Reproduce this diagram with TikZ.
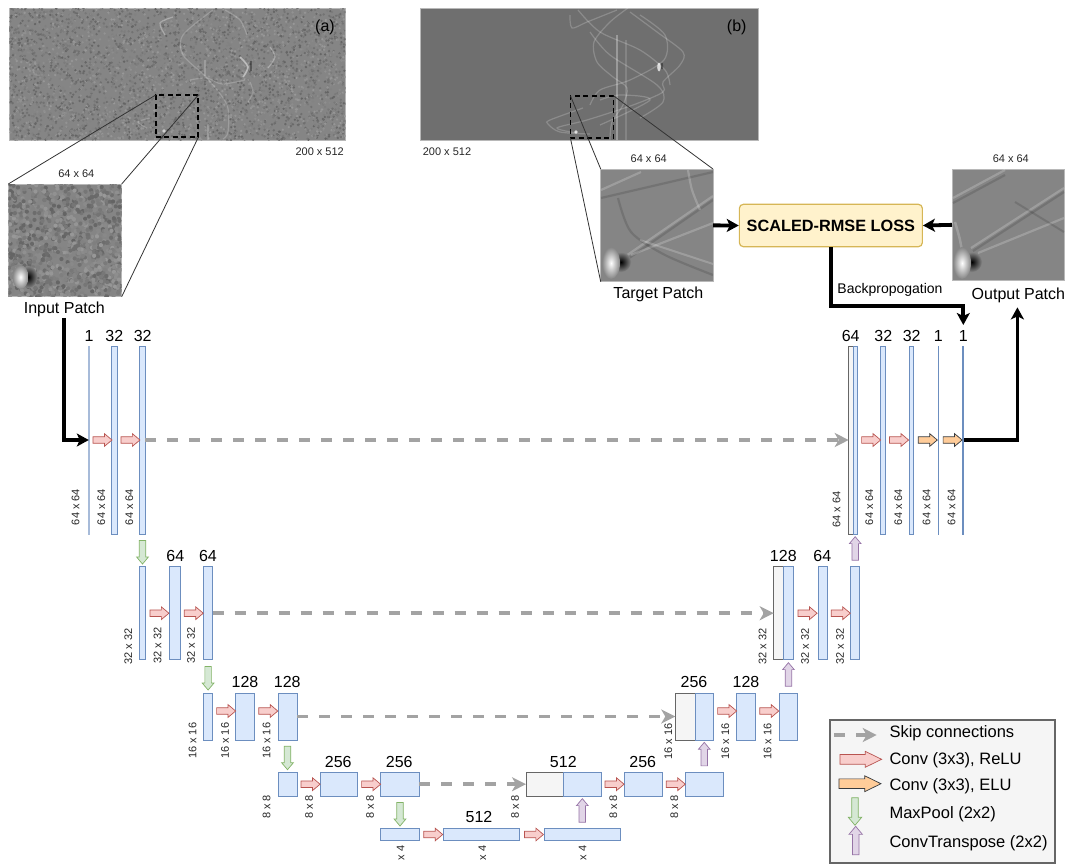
\documentclass[tikz,border=0pt]{standalone}
\usepackage{fontspec}
\setmainfont{Liberation Sans}
\usepackage{xcolor}
\usetikzlibrary{arrows.meta,calc,shapes.arrows}
\definecolor{UBlueFill}{HTML}{DAE8FC}
\definecolor{UBlueLine}{HTML}{6C8EBF}
\definecolor{UGrayFill}{HTML}{F5F5F5}
\definecolor{UGrayLine}{HTML}{666666}
\definecolor{URedFill}{HTML}{F8CECC}
\definecolor{URedLine}{HTML}{B85450}
\definecolor{UOrangeFill}{HTML}{FFCC99}
\definecolor{UOrangeLine}{HTML}{36393D}
\definecolor{UGreenFill}{HTML}{D5E8D4}
\definecolor{UGreenLine}{HTML}{82B366}
\definecolor{UPurpleFill}{HTML}{E1D5E7}
\definecolor{UPurpleLine}{HTML}{9673A6}
\definecolor{USkip}{HTML}{A3A3A3}
\definecolor{ULossFill}{HTML}{FFF2CC}
\definecolor{ULossLine}{HTML}{D6B656}
\definecolor{UPatch}{HTML}{858585}
\definecolor{UClean}{HTML}{6F6F6F}

\newcommand{\UFontSize}[1]{\fontsize{#1}{#1}\selectfont}
% Random grain for the noisy panels: x1,y1,x2,y2,count,cell size.
\newcommand{\UGrain}[6]{%
  \foreach \n in {1,...,#5} {
    \pgfmathsetmacro\gx{#1+rnd*(#3-#1)}
    \pgfmathsetmacro\gy{#2+rnd*(#4-#2)}
    \pgfmathsetmacro\gv{40+rnd*21}
    \fill[black!\gv!white] (\gx,\gy) circle[radius=#6];
  }}

\tikzset{
  unetblock/.style={draw=UBlueLine,fill=UBlueFill,line width=0.9pt,inner sep=0pt,outer sep=0pt},
  concatblock/.style={unetblock,draw=UGrayLine,fill=UGrayFill},
  blockarrow/.style={shape=single arrow,inner sep=2.9pt,outer sep=0pt,line width=0.7pt,
    single arrow head extend=3.1pt,single arrow tip angle=80,minimum height=19pt,minimum width=12.5pt},
  relu/.style={blockarrow,draw=URedLine,fill=URedFill},
  elu/.style={blockarrow,draw=UOrangeLine,fill=UOrangeFill},
  pool/.style={blockarrow,shape border rotate=270,minimum height=23.5pt,minimum width=11.5pt,
    single arrow head extend=2.6pt,draw=UGreenLine,fill=UGreenFill},
  upconv/.style={blockarrow,shape border rotate=90,minimum height=23.5pt,minimum width=11.5pt,
    single arrow head extend=2.6pt,draw=UPurpleLine,fill=UPurpleFill},
  skipline/.style={draw=USkip,line width=3.6pt,dash pattern=on 11pt off 11pt,
    -{Stealth[length=14pt,width=14pt,inset=4pt]}},
  flowline/.style={draw=black,line width=3.8pt,-{Stealth[length=12pt,width=13pt,inset=3pt]}},
  sizetext/.style={font=\UFontSize{16},inner sep=0pt},
  dimtext/.style={font=\UFontSize{11},inner sep=0pt,text=black!85},
  patchbox/.style={anchor=north west,inner sep=0pt,outer sep=0pt,draw=black!28,line width=0.7pt},
  cropbox/.style={anchor=north west,inner sep=0pt,outer sep=0pt,draw=black,line width=1.8pt,dash pattern=on 5pt off 3.5pt},
  zoomline/.style={draw=black!80,line width=0.8pt},
  streak/.style={white,line width=1.2pt,opacity=0.2},
  darkstreak/.style={black,line width=1.2pt,opacity=0.13},
  legendtext/.style={anchor=west,font=\UFontSize{16.5},inner sep=0pt},
}

\begin{document}
\begin{tikzpicture}[x=1pt,y=-1pt,line join=miter]
  \path[use as bounding box] (0,0) rectangle (1068,863);
  \pgfmathsetseed{42}

  % Noisy full section and its crop.
  \node[patchbox,fill=UPatch,minimum width=336.4pt,minimum height=131.7pt] (panelA) at (9.3,8.3) {};
  \begin{scope}
    \clip (9.3,8.3) rectangle (345.7,140);
    \UGrain{9.3}{8.3}{345.7}{140}{4500}{1.3}
    \draw[streak] plot[smooth] coordinates {(213,10) (183,35) (183,55) (207,78) (227,105) (228,132) (223,139)};
    \draw[streak,opacity=0.3] plot[smooth] coordinates {(173,17) (160,23) (165,35)};
    \draw[streak] plot[smooth] coordinates {(225,10) (240,20) (247,35)};
    \draw[streak,opacity=0.45,line width=1.6pt] plot[smooth] coordinates {(240,57) (248,67) (243,77)};
    \draw[darkstreak,opacity=0.35,line width=1.6pt] (251,61) -- (251,71);
    \draw[streak,opacity=0.3] plot[smooth] coordinates {(270,47) (275,57) (268,68)};
    \draw[streak] plot[smooth] coordinates {(250,82) (253,92) (248,102)};
    \draw[streak] plot[smooth] coordinates {(190,80) (207,78) (222,84) (245,80)};
    \draw[streak] (205,60) -- (205,76);
    \draw[streak] (208,124) -- (208,140);
    \draw[streak] plot[smooth] coordinates {(150,118) (138,122) (147,128)};
    \fill[white,opacity=0.6] (164,131) circle[radius=1.8];
  \end{scope}

  % Clean full section and its crop.
  \node[patchbox,fill=UClean,minimum width=337.5pt,minimum height=131.7pt] (panelB) at (420.5,8.3) {};
  \begin{scope}
    \clip (420.5,8.3) rectangle (758,140);
    \draw[streak] plot[smooth] coordinates {(628,8) (610,22) (594,42) (597,62) (613,77) (627,88) (623,105) (612,122) (610,140)};
    \draw[streak] plot[smooth] coordinates {(630,12) (657,32) (683,52) (680,65) (663,82) (663,92) (633,105) (587,120) (557,128) (577,133)};
    \draw[streak] plot[smooth] coordinates {(570,15) (572,28) (587,22) (617,10)};
    \draw[streak] plot[smooth] coordinates {(583,108) (550,120) (548,124) (560,132) (590,134)};
    \draw[streak] plot[smooth] coordinates {(590,32) (610,55) (657,85) (663,102) (640,118)};
    \draw[streak] plot[smooth] coordinates {(578,10) (600,32) (640,50) (665,70) (670,85)};
    \draw[streak] plot[smooth] coordinates {(640,15) (665,35) (664,60) (630,80) (600,90) (590,105)};
    \draw[streak] plot[smooth] coordinates {(600,100) (620,95) (650,100) (600,125)};
    \draw[streak,line width=2pt,opacity=0.3] (617,35) -- (617,140);
    \draw[streak,line width=1.4pt,opacity=0.15] (626,40) -- (626,140);
    \fill[white,opacity=0.75] (659,67) ellipse [x radius=1.8,y radius=4.5];
    \fill[black,opacity=0.35] (662,66) ellipse [x radius=1.2,y radius=3.5];
    \fill[white,opacity=0.75] (576,132) circle[radius=1.8];
  \end{scope}

  \node[font=\UFontSize{16},inner sep=0pt] (tagA) at (325,27) {(a)};
  \node[font=\UFontSize{16},inner sep=0pt] (tagB) at (736.7,27) {(b)};
  \node[dimtext] (fullA) at (319.7,152) {200 x 512};
  \node[dimtext] (fullB) at (447,152) {200 x 512};

  % Input patch.
  \node[patchbox,fill=UPatch,minimum width=113.4pt,minimum height=112.7pt] (patchIn) at (8.3,184) {};
  \begin{scope}
    \clip (8.3,184) rectangle (121.7,296.7);
    \UGrain{8.3}{184}{121.7}{296.7}{1100}{2.1}
    \shade[inner color=black,outer color=UPatch] (28.5,277) ellipse [x radius=9,y radius=11];
    \shade[inner color=white,outer color=UPatch] (20.5,277) ellipse [x radius=8,y radius=12];
  \end{scope}

  % Target patch.
  \node[patchbox,fill=UPatch,minimum width=112.3pt,minimum height=112.7pt] (patchTgt) at (600.7,169) {};
  \begin{scope}
    \clip (600.7,169) rectangle (713,281.7);
    \draw[streak,line width=2.2pt] (620,260) -- (713,196);
    \draw[darkstreak,line width=2.2pt] (622,263) -- (713,200);
    \draw[streak,line width=2.2pt] (631,255) -- (713,223);
    \draw[darkstreak,line width=2.2pt] (601,198) -- (713,172);
    \draw[streak,line width=2.2pt] (601,190) -- (641,172);
    \draw[darkstreak,line width=2.2pt] plot[smooth] coordinates {(618,198) (631,232) (665,255) (713,275)};
    \draw[streak,line width=2.2pt] plot[smooth] coordinates {(688,170) (692,190) (700,210)};
    \draw[streak,line width=2pt] (640,240) -- (713,264);
    \shade[inner color=black,outer color=UPatch] (621,262) ellipse [x radius=10,y radius=10];
    \shade[inner color=white,outer color=UPatch] (611,263) ellipse [x radius=9,y radius=16];
  \end{scope}

  % Output patch.
  \node[patchbox,fill=UPatch,minimum width=112.7pt,minimum height=111.7pt] (patchOut) at (952,169) {};
  \begin{scope}
    \clip (952,169) rectangle (1064.7,280.7);
    \draw[streak,line width=2.2pt] (953,198) -- (1005,170);
    \draw[darkstreak,line width=2.2pt] (953,203) -- (1005,175);
    \draw[streak,line width=2.2pt] (971,248) -- (1064,188);
    \draw[darkstreak,line width=2.2pt] (973,251) -- (1064,192);
    \draw[streak,line width=2.2pt] (978,253) -- (1064,218);
    \draw[darkstreak,line width=2pt] (1015,202) -- (1064,232);
    \draw[streak,line width=2.5pt] plot[smooth] coordinates {(955,222) (960,240) (963,258)};
    \shade[inner color=black,outer color=UPatch] (972,262) ellipse [x radius=10,y radius=10];
    \shade[inner color=white,outer color=UPatch] (962,263) ellipse [x radius=9,y radius=16];
  \end{scope}

  % Crops and the lines that open them up.
  \node[cropbox,minimum width=42.6pt,minimum height=42.3pt] (cropA) at (155.7,95) {};
  \node[cropbox,minimum width=43pt,minimum height=42.3pt] (cropB) at (570.4,95.7) {};
  \draw[zoomline] (cropA.north west) -- (patchIn.north west);
  \draw[zoomline] (cropA.north east) -- (patchIn.north east);
  \draw[zoomline] (cropA.south east) -- (patchIn.south east);
  \draw[zoomline] (cropB.north west) -- (patchTgt.north west);
  \draw[zoomline] (cropB.north east) -- (patchTgt.north east);
  \draw[zoomline] (cropB.south west) -- (patchTgt.south west);

  \node[dimtext] (sizeIn) at (76.3,173.3) {64 x 64};
  \node[dimtext] (sizeTgt) at (648.7,158.3) {64 x 64};
  \node[dimtext] (sizeOut) at (1010.8,158.3) {64 x 64};
  \node[sizetext] (lblIn) at (64.3,309.3) {Input Patch};
  \node[sizetext] (lblTgt) at (658.4,294.3) {Target Patch};
  \node[sizetext] (lblOut) at (1018.4,295.7) {Output Patch};

  \node[draw=ULossLine,fill=ULossFill,line width=1.2pt,rounded corners=4pt,inner sep=0pt,
    minimum width=183pt,minimum height=42.4pt,font=\UFontSize{16.3}\bfseries] (lossbox) at (830.85,225.5)
    {SCALED-RMSE LOSS};
  \node[font=\UFontSize{14},inner sep=0pt] (lblBack) at (890,290) {Backpropogation};

  % Encoder blocks, row by row.
  \foreach \blk/\xa/\xb in {e1a/88.8/89.4}
    \node[unetblock,draw=UBlueLine!60,minimum width={\xb-\xa},minimum height=188pt] (\blk) at ({(\xa+\xb)/2},440) {};
  \foreach \blk/\xa/\xb in {e1b/111.7/117.3,e1c/139.7/145.3}
    \node[unetblock,minimum width={\xb-\xa},minimum height=188pt] (\blk) at ({(\xa+\xb)/2},440) {};
  \foreach \blk/\xa/\xb in {e2a/139.7/145.3,e2b/169.7/180,e2c/203.7/212.7}
    \node[unetblock,minimum width={\xb-\xa},minimum height=93pt] (\blk) at ({(\xa+\xb)/2},613.2) {};
  \foreach \blk/\xa/\xb in {e3a/203.3/212.7,e3b/235.7/254.7,e3c/278/297}
    \node[unetblock,minimum width={\xb-\xa},minimum height=47pt] (\blk) at ({(\xa+\xb)/2},716.5) {};
  \foreach \blk/\xa/\xb in {e4a/278/297,e4b/320.3/357.7,e4c/380.7/419.3}
    \node[unetblock,minimum width={\xb-\xa},minimum height=24.3pt] (\blk) at ({(\xa+\xb)/2},784.2) {};
  \foreach \blk/\xa/\xb in {b5a/380.7/419.3,b5b/443.3/519.7,b5c/544.3/620.3}
    \node[unetblock,minimum width={\xb-\xa},minimum height=12.4pt] (\blk) at ({(\xa+\xb)/2},834.5) {};

  % Decoder blocks, grey halves are the copied maps.
  \foreach \blk/\xa/\xb in {u4x/526/563.7}
    \node[concatblock,minimum width={\xb-\xa},minimum height=24.3pt] (\blk) at ({(\xa+\xb)/2},784.2) {};
  \foreach \blk/\xa/\xb in {u4a/563.7/601,u4b/624.3/662.7,u4c/685/723.3}
    \node[unetblock,minimum width={\xb-\xa},minimum height=24.3pt] (\blk) at ({(\xa+\xb)/2},784.2) {};
  \foreach \blk/\xa/\xb in {u3x/675.3/695}
    \node[concatblock,minimum width={\xb-\xa},minimum height=47pt] (\blk) at ({(\xa+\xb)/2},716.5) {};
  \foreach \blk/\xa/\xb in {u3a/695/713.7,u3b/736.7/755.7,u3c/779/797.7}
    \node[unetblock,minimum width={\xb-\xa},minimum height=47pt] (\blk) at ({(\xa+\xb)/2},716.5) {};
  \foreach \blk/\xa/\xb in {u2x/773.7/783.7}
    \node[concatblock,minimum width={\xb-\xa},minimum height=93pt] (\blk) at ({(\xa+\xb)/2},613.2) {};
  \foreach \blk/\xa/\xb in {u2a/783.7/793.3,u2b/818/827,u2c/850.7/859.3}
    \node[unetblock,minimum width={\xb-\xa},minimum height=93pt] (\blk) at ({(\xa+\xb)/2},613.2) {};
  \foreach \blk/\xa/\xb in {u1x/848.7/853}
    \node[concatblock,minimum width={\xb-\xa},minimum height=188pt] (\blk) at ({(\xa+\xb)/2},440) {};
  \foreach \blk/\xa/\xb in {u1a/853/857.7,u1b/880.7/885.3,u1c/909/913.7,u1d/938/938.6,u1e/962.8/963.8}
    \node[unetblock,minimum width={\xb-\xa},minimum height=188pt] (\blk) at ({(\xa+\xb)/2},440) {};

  % Block arrows sit halfway between the blocks they join.
  \foreach \aa/\bb in {e1a/e1b,e1b/e1c,e2a/e2b,e2b/e2c,e4a/e4b,e4b/e4c,b5a/b5b,b5b/b5c,
      u4a/u4b,u4b/u4c,u2a/u2b,u2b/u2c,u1a/u1b,u1b/u1c}
    \node[relu] (\aa\bb) at ($(\aa.east)!.5!(\bb.west)$) {};
  \foreach \aa/\bb in {e3a/e3b,e3b/e3c,u3a/u3b,u3b/u3c}
    \node[relu,yshift=5.5pt] (\aa\bb) at ($(\aa.east)!.5!(\bb.west)$) {};
  \foreach \aa/\bb in {u1c/u1d,u1d/u1e}
    \node[elu] (\aa\bb) at ($(\aa.east)!.5!(\bb.west)$) {};
  \foreach \aa/\bb in {e1c/e2a,e2c/e3a,e3c/e4a,e4c/b5a}
    \node[pool] (\aa\bb) at ($(\aa.south)!.5!(\bb.north)$) {};
  \foreach \aa/\bb in {b5c/u4a,u4c/u3a,u3c/u2a,u2c/u1a}
    \node[upconv] (\aa\bb) at ($(\aa.north)!.5!(\bb.south)$) {};

  % Channel counts over the blocks.
  \foreach \xx/\yy/\tx [count=\i] in {89/335.7/1,114.3/335.7/32,142.7/335.7/32,175.3/556/64,208/556/64,
      245/681.7/128,287.3/681.7/128,338.3/761.7/256,399.3/761.7/256,479/817/512,563.3/761.7/512,
      642.7/761.7/256,694/681.7/256,746/681.7/128,783.3/556/128,822.3/556/64,850.7/335.7/64,
      883.3/335.7/32,911.7/335.7/32,938.3/335.7/1}
    \node[sizetext] (chan\i) at (\xx,\yy) {\tx};
  \node[sizetext] (chanOut) at (963.3,335.7) {1};

  % Map sizes, turned on their side.
  \foreach \xx/\yy [count=\i] in {75.7/507,101.3/507,129.3/507,836.7/509.3,869.3/507,898.3/507,926.7/507,951.7/507}
    \node[dimtext,rotate=90] (dimA\i) at (\xx,\yy) {64 x 64};
  \foreach \xx/\yy [count=\i] in {128.3/646.7,157.7/645.7,191/645.7,762.7/646.7,805/646.7,840/646.7}
    \node[dimtext,rotate=90] (dimB\i) at (\xx,\yy) {32 x 32};
  \foreach \xx/\yy [count=\i] in {192.7/740.8,225/740.8,266.7/740.8,668.3/741.7,725.3/741.7,767.7/741.7}
    \node[dimtext,rotate=90] (dimC\i) at (\xx,\yy) {16 x 16};
  \foreach \xx/\yy [count=\i] in {266.7/807,309/807,370/807,515/807,613.3/807,674.3/807}
    \node[dimtext,rotate=90] (dimD\i) at (\xx,\yy) {8 x 8};
  \foreach \xx [count=\i] in {400.7,482.3,582.7}
    \node[dimtext,rotate=90] (dimE\i) at (\xx,853) {x 4};

  % Skip connections.
  \draw[skipline] (e1c.east) -- (u1x.west);
  \draw[skipline] (e2c.east) -- (u2x.west);
  \draw[skipline] (e3c.east) -- (u3x.west);
  \draw[skipline] (e4c.east) -- (u4x.west);

  % Heavy data flow.
  \coordinate (backTurn) at (963.3,306);
  \draw[flowline,shorten <=-1pt] (lblIn.south) ++(0,2) |- (e1a.west);
  \draw[flowline] (patchTgt.east) -- (lossbox.west);
  \draw[flowline] (patchOut.west) -- (lossbox.east);
  \draw[flowline] (lossbox.south) |- (backTurn) -- ($(chanOut.north)+(0,-5)$);
  \draw[flowline] (u1e.east) -| ($(lblOut.south)+(-1,4)$);

  % Legend.
  \node[anchor=north west,draw=UGrayLine,fill=UGrayFill,line width=1.8pt,inner sep=0pt,
    minimum width=224.7pt,minimum height=143pt] (legendbox) at (829.3,718.7) {};
  \coordinate (legendA) at (834,735);
  \coordinate (legendB) at (876.7,735);
  \draw[skipline] (legendA) -- (legendB);
  \node[relu,inner sep=4.5pt,single arrow tip angle=52,minimum height=41.7pt,minimum width=14.7pt] (legendRelu) at (855.8,759.3) {};
  \node[elu,inner sep=4.5pt,single arrow tip angle=52,minimum height=42pt,minimum width=14.7pt] (legendElu) at (855,783.7) {};
  \node[pool,minimum height=27.6pt,minimum width=13.5pt,single arrow head extend=3.4pt] (legendPool) at (855,809.5) {};
  \node[upconv,minimum height=28.4pt,minimum width=13.5pt,single arrow head extend=3.4pt] (legendUp) at (855.7,842.5) {};
  \node[legendtext] (keySkip) at (889.3,733.3) {Skip connections};
  \node[legendtext] (keyRelu) at (889.3,760) {Conv (3x3), ReLU};
  \node[legendtext] (keyElu) at (889.3,786) {Conv (3x3), ELU};
  \node[legendtext] (keyPool) at (889.3,814.3) {MaxPool (2x2)};
  \node[legendtext] (keyUp) at (889.3,843.3) {ConvTranspose (2x2)};
\end{tikzpicture}
\end{document}
